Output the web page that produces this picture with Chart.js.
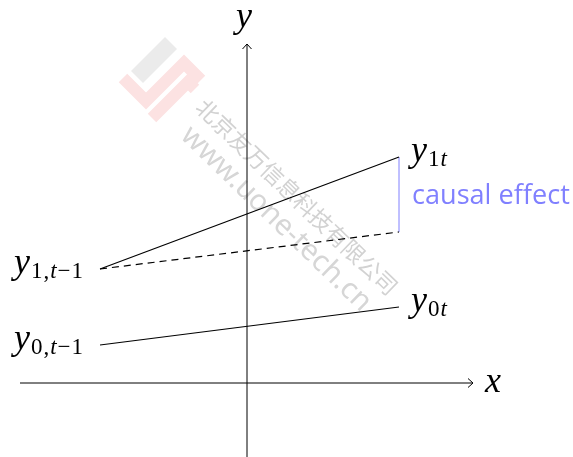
<!DOCTYPE html>
<html>
<head>
<meta charset="utf-8">
<script src="https://cdn.jsdelivr.net/npm/chart.js@4.4.1/dist/chart.umd.min.js"></script>
<style>
  html, body { margin: 0; padding: 0; background: #fff; }
  #wrap { width: 573px; height: 457px; }
</style>
</head>
<body>
<div id="wrap"><canvas id="didChart" width="573" height="457"></canvas></div>
<script>
// two periods on the horizontal axis
const periods = ['t-1', 't'];
const periodX = [-1.47, 1.52];

// outcome values
const treated = [1.14, 2.26];          // y1,t-1 -> y1t
const counterfactual = [1.14, 1.51];   // dashed parallel trend
const control = [0.38, 0.76];          // y0,t-1 -> y0t

// axis extent
const xAxisRange = [-2.27, 2.26];
const yAxisRange = [-0.74, 3.39];
const xBounds = [-2.47, 3.26];
const yBounds = [-0.74, 3.83];

const effectColor = '#8080ff';
const mathItalic = 'italic 36px "Liberation Serif"';
const subItalic = 'italic 23px "Liberation Serif"';
const subUpright = '23px "Liberation Serif"';

const pts = (xs, ys) => xs.map((x, i) => ({ x: x, y: ys[i] }));

// math label pieces: [text, font, baseline shift]
const mathLabel = (sub) => [['y', mathItalic, 0]].concat(sub.map(s => [s[0], s[1] ? subItalic : subUpright, 5]));

const labels = [
    { x: periodX[0], y: treated[0], side: 'left', parts: mathLabel([['1'], [','], ['t', 1], ['\u2212'], ['1']]) },
    { x: periodX[0], y: control[0], side: 'left', parts: mathLabel([['0'], [','], ['t', 1], ['\u2212'], ['1']]) },
    { x: periodX[1], y: treated[1], side: 'right', parts: mathLabel([['1'], ['t', 1]]) },
    { x: periodX[1], y: control[1], side: 'right', parts: mathLabel([['0'], ['t', 1]]) }
];

const drawParts = (ctx, parts, x, y, align) => {
    let w = 0;
    parts.forEach(p => { ctx.font = p[1]; w += ctx.measureText(p[0]).width + 1; });
    let cx = align === 'right' ? x - w : x;
    ctx.textAlign = 'left';
    ctx.textBaseline = 'alphabetic';
    parts.forEach(p => {
        ctx.font = p[1];
        ctx.fillText(p[0], cx, y + p[2]);
        cx += ctx.measureText(p[0]).width + 1;
    });
};

const watermarkPlugin = {
    id: 'watermark',
    beforeDatasetsDraw(chart) {
        const ctx = chart.ctx;
        ctx.save();
        // logo
        ctx.fillStyle = '#ebebeb';
        ctx.beginPath();
        ctx.moveTo(131, 71); ctx.lineTo(165, 37); ctx.lineTo(177, 49); ctx.lineTo(143, 83);
        ctx.closePath(); ctx.fill();
        ctx.strokeStyle = '#fce2e2';
        ctx.lineWidth = 12;
        ctx.lineCap = 'butt';
        ctx.beginPath();
        ctx.moveTo(123, 78); ctx.lineTo(146, 101); ctx.lineTo(184, 63); ctx.lineTo(201, 80);
        ctx.stroke();
        ctx.beginPath();
        ctx.moveTo(152, 118); ctx.lineTo(188, 82); ctx.lineTo(195, 89);
        ctx.stroke();

        // company name + url
        const drawRot = (text, weight, family, cx, cy, len, color) => {
            ctx.save();
            ctx.translate(cx, cy);
            ctx.rotate(44 * Math.PI / 180);
            ctx.font = weight + ' 20px ' + family;
            const s = len / ctx.measureText(text).width;
            ctx.font = weight + ' ' + (20 * s).toFixed(1) + 'px ' + family;
            ctx.fillStyle = color;
            ctx.textAlign = 'center';
            ctx.textBaseline = 'middle';
            ctx.fillText(text, 0, 0);
            ctx.restore();
        };
        drawRot('北京友万信息科技有限公司', 'normal', '"Noto Sans CJK SC"', 297, 197, 270, '#d2d2d2');
        drawRot('www.uone-tech.cn', 'normal', '"Noto Sans"', 276, 219, 252, '#d6d6d6');
        ctx.restore();
    },
    afterDatasetsDraw(chart) {
        const ctx = chart.ctx;
        const xs = chart.scales.x, ys = chart.scales.y;
        ctx.save();
        // arrow heads
        ctx.strokeStyle = '#000';
        ctx.lineWidth = 1;
        const tx = xs.getPixelForValue(xAxisRange[1]), ty = ys.getPixelForValue(0);
        ctx.beginPath();
        ctx.moveTo(tx - 5, ty - 4.5); ctx.lineTo(tx, ty); ctx.lineTo(tx - 5, ty + 4.5);
        ctx.stroke();
        const ux = xs.getPixelForValue(0), uy = ys.getPixelForValue(yAxisRange[1]);
        ctx.beginPath();
        ctx.moveTo(ux - 4.5, uy + 5); ctx.lineTo(ux, uy); ctx.lineTo(ux + 4.5, uy + 5);
        ctx.stroke();

        // axis names
        ctx.fillStyle = '#000';
        drawParts(ctx, [['x', mathItalic, 0]], tx + 12, ty + 9, 'left');
        drawParts(ctx, [['y', mathItalic, 0]], ux - 11, uy - 17, 'left');

        // point labels
        labels.forEach(l => {
            const px = xs.getPixelForValue(l.x), py = ys.getPixelForValue(l.y);
            if (l.side === 'left') drawParts(ctx, l.parts, px - 16, py + 4, 'right');
            else drawParts(ctx, l.parts, px + 12, py + 4, 'left');
        });

        // causal effect note, sized to its span in the source
        const ex = xs.getPixelForValue(periodX[1]);
        const ey = (ys.getPixelForValue(treated[1]) + ys.getPixelForValue(counterfactual[1])) / 2;
        ctx.font = '24px "Open Sans"';
        const fs = 24 * 158 / ctx.measureText('causal effect').width;
        ctx.font = fs.toFixed(1) + 'px "Open Sans"';
        ctx.fillStyle = effectColor;
        ctx.textAlign = 'left';
        ctx.textBaseline = 'alphabetic';
        ctx.fillText('causal effect', ex + 13, ey + 9);
        ctx.restore();
    }
};

const lineSet = (data, color, extra) => Object.assign({
    data: data,
    showLine: true,
    borderColor: color,
    borderWidth: 1.2,
    pointRadius: 0,
    fill: false
}, extra || {});

new Chart(document.getElementById('didChart'), {
    type: 'scatter',
    data: {
        datasets: [
            lineSet(pts(xAxisRange, [0, 0]), '#000', { borderWidth: 1 }),
            lineSet(pts([0, 0], yAxisRange), '#000', { borderWidth: 1 }),
            lineSet(pts(periodX, treated), '#000'),
            lineSet(pts(periodX, counterfactual), '#000', { borderDash: [7, 5] }),
            lineSet(pts(periodX, control), '#000'),
            lineSet(pts([periodX[1], periodX[1]], [counterfactual[1], treated[1]]), effectColor, { borderWidth: 1 })
        ]
    },
    options: {
        responsive: false,
        animation: false,
        devicePixelRatio: 1,
        layout: { padding: 0 },
        plugins: { legend: { display: false }, tooltip: { enabled: false } },
        scales: {
            x: { type: 'linear', display: false, min: xBounds[0], max: xBounds[1] },
            y: { type: 'linear', display: false, min: yBounds[0], max: yBounds[1] }
        }
    },
    plugins: [watermarkPlugin]
});
</script>
</body>
</html>
